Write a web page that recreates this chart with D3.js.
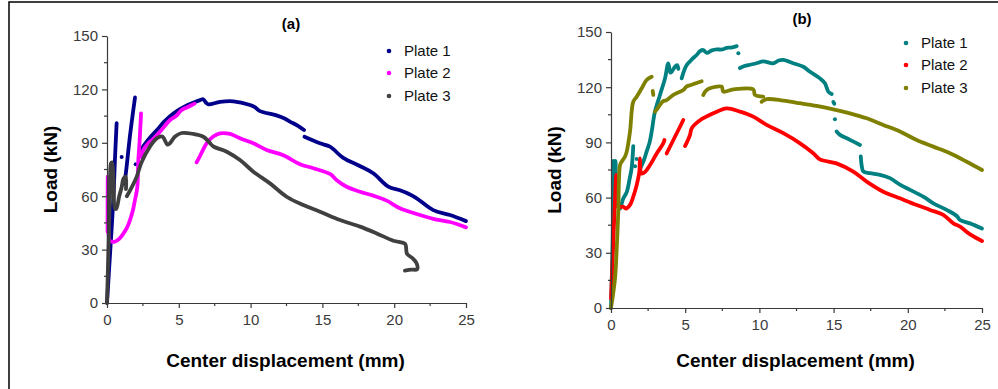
<!DOCTYPE html>
<html>
<head>
<meta charset="utf-8">
<script src="https://cdn.jsdelivr.net/npm/d3@7"></script>
<style>
  body { margin: 0; background: #fff; }
  svg { display: block; font-family: "Liberation Sans", Arial, sans-serif; }
</style>
</head>
<body>
<div id="chart"></div>
<script>
// tick values shared by both panels
const xTicks = [0, 5, 10, 15, 20, 25];
const yTicks = [0, 30, 60, 90, 120, 150];
const xMinor = [2.5, 7.5, 12.5, 17.5, 22.5];
const yMinor = [15, 45, 75, 105, 135];
const seriesNames = ["Plate 1", "Plate 2", "Plate 3"];

// panel (a): each series is a list of segments (gaps between them), [displacement mm, load kN]
const a1 = [
  [[0, 0], [0.2, 26], [0.44, 58], [0.55, 80], [0.67, 101]],
  [[1.02, 82]],
  [[1.2, 67], [1.3, 72], [1.6, 94], [1.95, 115.5]],
  [[2.0, 78]],
  [[2.4, 86], [2.53, 88], [3.0, 93], [3.46, 97], [4.0, 102], [4.62, 106.5], [5.55, 111], [6.0, 112.5],
   [6.48, 114], [6.7, 114.5], [6.9, 112.5], [7.06, 111.6], [7.87, 113], [8.8, 113.3], [9.96, 111.2],
   [10.3, 110], [10.65, 107.8], [11.8, 105.4], [12.4, 103.5], [12.74, 101.9], [13.3, 99.5], [13.72, 97.2]],
  [[13.75, 93.4], [14.83, 89.7], [15.53, 87.8], [16.45, 81.5], [17.6, 77], [18.54, 72.9], [19.59, 65.4],
   [20.4, 63.3], [21.1, 61], [21.57, 58.8], [22.72, 52.2], [23.89, 49.4], [25, 46]]
];
const a2 = [
  [[0.04, 40], [0.05, 71], [0.1, 45], [0.2, 35], [0.56, 34.5], [0.85, 36], [1.14, 39], [1.4, 42.5],
   [1.6, 46.6], [1.8, 52], [1.95, 58], [2.11, 65], [2.18, 80], [2.25, 88], [2.33, 100], [2.37, 106.5]],
  [[2.4, 82], [2.53, 86], [2.88, 89.7], [3.2, 92], [3.69, 96.2], [4.39, 102.8], [4.8, 105], [5.2, 108.4],
   [5.6, 110], [6.1, 112]],
  [[6.24, 79], [6.5, 83], [6.94, 89.7], [7.4, 93.5], [7.87, 95.3], [8.57, 95], [9.26, 92.5], [10.19, 89.7],
   [11.12, 86], [12.28, 83], [13.44, 78], [14.37, 75.7], [15.53, 72.5], [16.0, 69], [16.69, 65.3],
   [17.62, 62.5], [18.54, 60.3], [19.48, 57.5], [20.4, 53.2], [21.57, 50], [22.72, 47.3], [23.89, 45.5], [25, 42.5]]
];
const a3 = [
  [[0, 0], [0.1, 30], [0.2, 60], [0.28, 78.5], [0.35, 79], [0.45, 70], [0.56, 53], [0.65, 53], [0.85, 60],
   [1.02, 65], [1.15, 70], [1.3, 71], [1.32, 64]],
  [[1.38, 60], [1.72, 65], [2.07, 71], [2.4, 79], [3.0, 88], [3.46, 92.5], [3.85, 93.5], [4.2, 89], [4.35, 89.5],
   [4.74, 93.5], [5.2, 95.5], [6.0, 95], [6.71, 93.4], [7.1, 90.5], [7.4, 88], [8.34, 85], [9.26, 80.3],
   [10.19, 73.8], [11.35, 67.2], [12.51, 59.7], [13.67, 55], [14.83, 51.3], [16.23, 46.6], [17.62, 42.9],
   [18.78, 39.1], [19.94, 35], [20.75, 33.3], [20.85, 29], [20.9, 27.5], [21.3, 25], [21.55, 22.5],
   [21.6, 19], [21.2, 18.7], [20.75, 18.2]]
];

// panel (b)
const b1 = [
  [[0, 0], [0.12, 40], [0.16, 80], [0.22, 70], [0.3, 80], [0.35, 65], [0.5, 55], [0.61, 54], [0.8, 59],
   [1.06, 63], [1.25, 70], [1.39, 76], [1.5, 88]],
  [[1.62, 77]],
  [[1.73, 81]],
  [[1.95, 75.5], [2.2, 80], [2.4, 85], [2.6, 90], [2.74, 95.8], [2.96, 106.7], [3.3, 115.8], [3.64, 124.8],
   [3.86, 133], [4.0, 128], [4.09, 128.4], [4.3, 131], [4.45, 132], [4.54, 130]],
  [[4.76, 124.8], [5.1, 132], [5.5, 135.5], [5.77, 137.5], [6.0, 139.6], [6.22, 140.2], [6.45, 138.7],
   [6.8, 140], [7.12, 140.5], [7.5, 140.5], [7.8, 141.4], [8.1, 141.5], [8.47, 142.3]],
  [[8.58, 138.4]],
  [[8.69, 130.4], [9.0, 131.5], [9.37, 132.2], [9.8, 133], [10.26, 134], [10.94, 133], [11.3, 134.5],
   [11.61, 134.8], [12.28, 133], [12.96, 131.1], [13.41, 128.4], [14.08, 124.8], [14.42, 122.1],
   [14.64, 117.6], [14.87, 116.3]],
  [[14.98, 112], [15.05, 111]],
  [[15.09, 102.6]],
  [[15.2, 95.9], [15.43, 94.1], [16.1, 91.4], [16.78, 88.6]],
  [[16.83, 82.4], [16.9, 77], [17.0, 74.2], [17.45, 73.3], [18.13, 72.4], [18.8, 70.6], [19.47, 67],
   [20.15, 64.2], [21.04, 60.5], [21.72, 56.9], [22.62, 53.3], [23.3, 50], [23.52, 47.8], [24.19, 46], [25, 43.2]]
];
const b2 = [
  [[0, 5], [0.1, 25], [0.2, 45], [0.3, 65], [0.35, 72.3], [0.4, 60], [0.49, 55], [0.83, 55], [1.0, 54],
   [1.28, 56], [1.5, 60.5], [1.73, 66.8], [1.91, 74], [1.95, 81.3], [2.0, 74], [2.07, 73], [2.3, 74],
   [2.63, 77.7], [3.08, 84], [3.52, 89.5], [3.6, 91.3]],
  [[3.75, 84], [4.2, 91.3], [4.65, 98.5], [4.87, 102.2]],
  [[4.99, 88], [5.32, 94], [5.44, 97.7], [6.0, 102], [6.89, 105.8], [7.8, 108.5], [8.69, 106.7], [9.59, 104],
   [10.49, 99.5], [11.61, 95], [12.74, 89.5], [13.63, 84.1], [14.08, 80.8], [15.2, 78.6], [16.33, 74.1],
   [17.23, 68.7], [18.35, 63.2], [19.47, 59.6], [20.6, 56], [21.5, 53.3], [22.39, 50.6], [23.07, 46],
   [23.52, 44.2], [24.2, 40], [25, 36.4]]
];
const b3 = [
  [[0, 0], [0.27, 16], [0.4, 35], [0.49, 52.3], [0.61, 77.7], [0.72, 79.5], [0.94, 82.2], [1.06, 85],
   [1.28, 95.8], [1.5, 112.1], [1.73, 114.8], [2.07, 119.4], [2.4, 123.9], [2.74, 125.7]],
  [[2.81, 118], [2.85, 115.8]],
  [[2.96, 106.7], [3.08, 107.8], [3.3, 110.4], [3.52, 112.4], [3.75, 113], [4.2, 115.8], [4.87, 118.5],
   [5.1, 120.5], [5.44, 121.3], [5.77, 122.3], [6.11, 123.2]],
  [[6.22, 115.8], [6.45, 118.5], [7.12, 120.3], [7.46, 120.3], [7.57, 117.6], [8.24, 118.8], [9.59, 118.8],
   [9.7, 115.8], [10.26, 114.9]],
  [[10.15, 112.1], [10.49, 113.5], [11.61, 112.7], [12.74, 111.3], [13.86, 109.8], [14.98, 108], [16.1, 105.8],
   [17.23, 103.1], [18.35, 99.5], [19.47, 95.9], [20.6, 91.3], [21.72, 87.7], [22.84, 84.1], [23.97, 79.5], [25, 75]]
];

const W = 998, H = 389;
const svg = d3.select("#chart").append("svg").attr("width", W).attr("height", H);

// outer frame (left + top only, as in the source image)
svg.append("path").attr("d", `M9,${H} V2 H${W}`)
  .attr("fill", "none").attr("stroke", "#000").attr("stroke-width", 1.5);

const panels = [
  { title: "(a)", series: [a1, a2, a3], colors: ["#00008b", "#ff00ff", "#404040"],
    x0: 107, x1: 466, y0: 303, y1: 36, titleX: 291, titleY: 29, ylabX: 57, xlabY: 367,
    legX: 389, legY: [51, 73, 96] },
  { title: "(b)", series: [b1, b2, b3], colors: ["#008080", "#ff0000", "#808000"],
    x0: 611, x1: 982, y0: 308, y1: 32, titleX: 802, titleY: 24, ylabX: 561, xlabY: 367,
    legX: 906, legY: [43, 65, 88] }
];

panels.forEach(p => {
  const x = d3.scaleLinear().domain([0, 25]).range([p.x0, p.x1]);
  const y = d3.scaleLinear().domain([0, 150]).range([p.y0, p.y1]);
  const g = svg.append("g");

  const line = d3.line().x(d => x(d[0])).y(d => y(d[1])).curve(d3.curveCatmullRom.alpha(0.5));

  p.series.forEach((segs, i) => {
    segs.forEach(seg => {
      if (seg.length === 1) {
        g.append("circle").attr("cx", x(seg[0][0])).attr("cy", y(seg[0][1]))
          .attr("r", 2).attr("fill", p.colors[i]);
      } else {
        g.append("path").datum(seg).attr("d", line)
          .attr("fill", "none").attr("stroke", p.colors[i])
          .attr("stroke-width", 3.8).attr("stroke-linejoin", "round").attr("stroke-linecap", "round");
      }
    });
  });

  // axes
  const axCol = "#3a3a3a";
  const xAxis = g.append("g").attr("transform", `translate(0,${p.y0})`)
    .call(d3.axisBottom(x).tickValues(xTicks).tickSize(5).tickSizeOuter(0).tickPadding(6));
  const yAxis = g.append("g").attr("transform", `translate(${p.x0},0)`)
    .call(d3.axisLeft(y).tickValues(yTicks).tickSize(5).tickSizeOuter(0).tickPadding(4));
  [xAxis, yAxis].forEach(ax => {
    ax.select(".domain").attr("stroke", axCol).attr("stroke-width", 1.2);
    ax.selectAll(".tick line").attr("stroke", axCol).attr("stroke-width", 1.2);
    ax.selectAll(".tick text").attr("fill", "#3a3a3a").style("font-size", "15px")
      .style("font-family", "'Liberation Sans', Arial, sans-serif");
  });
  g.selectAll(null).data(xMinor).join("line")
    .attr("x1", d => x(d)).attr("x2", d => x(d)).attr("y1", p.y0).attr("y2", p.y0 + 3)
    .attr("stroke", axCol).attr("stroke-width", 1.2);
  g.selectAll(null).data(yMinor).join("line")
    .attr("x1", p.x0 - 3).attr("x2", p.x0).attr("y1", d => y(d)).attr("y2", d => y(d))
    .attr("stroke", axCol).attr("stroke-width", 1.2);

  // titles and labels
  g.append("text").attr("x", p.titleX).attr("y", p.titleY).attr("text-anchor", "middle")
    .attr("font-weight", "bold").attr("font-size", 15).text(p.title);
  g.append("text").attr("transform", `translate(${p.ylabX},${(p.y0 + p.y1) / 2}) rotate(-90)`)
    .attr("text-anchor", "middle").attr("font-weight", "bold").attr("font-size", 19).text("Load (kN)");
  g.append("text").attr("x", (p.x0 + p.x1) / 2 - 1).attr("y", p.xlabY).attr("text-anchor", "middle")
    .attr("font-weight", "bold").attr("font-size", 19).text("Center displacement (mm)");

  // legend
  seriesNames.forEach((name, i) => {
    g.append("circle").attr("cx", p.legX).attr("cy", p.legY[i]).attr("r", 2.3).attr("fill", p.colors[i]);
    g.append("text").attr("x", p.legX + 15).attr("y", p.legY[i]).attr("dy", "0.35em")
      .attr("font-size", 15).attr("fill", "#111").text(name);
  });
});
</script>
</body>
</html>
